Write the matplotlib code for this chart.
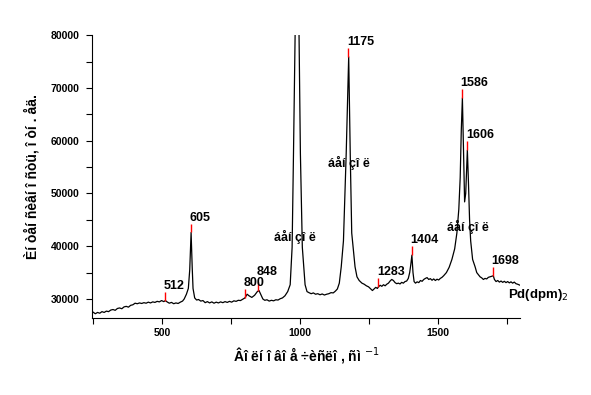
import numpy as np
import matplotlib
matplotlib.use('Agg')
import matplotlib.pyplot as plt
from matplotlib.ticker import MultipleLocator

# spectrum (wavenumber, intensity)
wavenumber = [250, 258, 266, 274, 282, 290, 298, 306, 314, 322, 330, 338, 346, 354,
              362, 370, 378, 386, 394, 402, 410, 418, 426, 434, 442, 450, 458, 466,
              474, 482, 490, 498, 506, 512, 518, 526, 534, 542, 550, 558, 566, 574,
              580, 588, 595, 600, 605, 609, 612, 618, 625, 632, 640, 648, 656, 664,
              672, 680, 688, 696, 704, 712, 720, 728, 736, 744, 752, 760, 768, 776,
              784, 792, 800, 808, 815, 825, 835, 845, 851, 857, 865, 872, 880, 888,
              896, 904, 912, 920, 928, 936, 945, 955, 964, 971, 976, 982, 989, 996,
              1001, 1008, 1018, 1025, 1032, 1040, 1048, 1056, 1064, 1072, 1080, 1088,
              1096, 1104, 1112, 1120, 1128, 1135, 1142, 1149, 1157, 1167, 1176, 1182,
              1187, 1199, 1206, 1214, 1224, 1232, 1240, 1248, 1256, 1262, 1268, 1274,
              1280, 1284, 1290, 1296, 1302, 1308, 1314, 1320, 1326, 1332, 1338, 1344,
              1350, 1356, 1362, 1368, 1374, 1380, 1386, 1392, 1397, 1401, 1405, 1409,
              1413, 1418, 1424, 1430, 1436, 1442, 1448, 1454, 1460, 1466, 1472, 1478,
              1484, 1490, 1496, 1502, 1508, 1514, 1520, 1530, 1540, 1550, 1560, 1568,
              1575, 1580, 1584, 1588, 1592, 1596, 1600, 1606, 1610, 1614, 1618, 1625,
              1634, 1640, 1646, 1652, 1658, 1664, 1670, 1676, 1682, 1688, 1694, 1700,
              1704, 1710, 1716, 1722, 1728, 1734, 1740, 1746, 1752, 1758, 1764, 1770,
              1776, 1782, 1788, 1797]
intensity = [27500, 27200, 27450, 27300, 27600, 27450, 27700, 27600, 27900, 28000,
             27850, 28200, 28300, 28150, 28500, 28600, 28450, 28800, 28900, 29200,
             29100, 29250, 29150, 29300, 29200, 29400, 29250, 29450, 29350, 29550,
             29450, 29700, 29500, 29700, 29450, 29200, 29350, 29100, 29250, 29150,
             29400, 29600, 30000, 30900, 32000, 35500, 42600, 36000, 32000, 30200,
             29800, 29900, 29600, 29700, 29300, 29500, 29250, 29450, 29200, 29400,
             29250, 29450, 29300, 29500, 29350, 29550, 29400, 29650, 29550, 29750,
             29700, 29950, 30200, 30900, 30600, 30300, 30700, 31400, 31600, 30900,
             30000, 29750, 29850, 29600, 29750, 29650, 29850, 29800, 30050, 30200,
             30600, 31400, 32700, 39800, 57600, 80500, 100000, 80500, 57600, 39800,
             32700, 31400, 31200, 31000, 31150, 30900, 31000, 30800, 30950, 30750,
             30900, 31000, 31200, 31150, 31500, 31900, 33000, 36100, 41000, 57600,
             75900, 56300, 42500, 36100, 34200, 33500, 33000, 32800, 32500, 32300,
             31900, 31600, 31900, 32200, 32000, 32300, 32600, 32400, 32700, 32500,
             32800, 33000, 33400, 33700, 33500, 33100, 32900, 33000, 32850, 33150,
             33000, 33300, 33400, 33900, 35000, 36500, 38300, 35000, 33300, 33000,
             33250, 33100, 33500, 33350, 33700, 33900, 34050, 33700, 33850, 33550,
             33800, 33500, 33750, 33600, 33900, 34100, 34400, 35000, 36000, 37500,
             39500, 42500, 47000, 53000, 62000, 68100, 58000, 48400, 50000, 58200,
             52000, 45000, 41000, 37500, 36100, 35000, 34600, 34200, 34000, 33700,
             33900, 33800, 34100, 34200, 34300, 34400, 33700, 33300, 33500, 33200,
             33400, 33150, 33350, 33100, 33300, 33050, 33250, 33000, 33200, 32900,
             32800, 32600]

# labelled peaks
peak_pos = [512, 605, 800, 848, 1175, 1283, 1404, 1586, 1606, 1698]
peak_height = [29700, 42600, 30200, 31600, 75900, 32300, 38300, 68100, 58200, 34400]
peak_text = ['512', '605', '800', '848', '1175', '1283', '1404', '1586', '1606', '1698']

# compound labels
band_pos = [982, 1178, 1609]
band_y = [41700, 55800, 43600]
band_text = 'áåí çî ë'

fig = plt.figure(figsize=(5.91, 3.95), dpi=100)
ax = fig.add_axes([0.1557, 0.195, 0.7243, 0.716])

ax.plot(wavenumber, intensity, color='black', lw=0.9)

bold = dict(fontweight='bold', family=['Liberation Sans', 'DejaVu Sans'])

# red peak markers + numbers
for x, h, t in zip(peak_pos, peak_height, peak_text):
    ax.vlines(x, h, h + 1700, color='red', lw=1.0)
    dy = 2.5 if t == '848' else 0
    ax.annotate(t, (x, h + 1700), xytext=(-1, dy), textcoords='offset points',
                ha='left', va='bottom', fontsize=9, **bold)

for x, y in zip(band_pos, band_y):
    ax.text(x, y, band_text, ha='center', va='center', fontsize=9, **bold)

ax.text(1753, 30800, 'Pd(dpm)$_2$', ha='left', va='center', fontsize=9.5,
        clip_on=False, **bold)

ax.set_xlim(246, 1797)
ax.set_ylim(26400, 80000)
ax.xaxis.set_major_locator(MultipleLocator(500))
ax.xaxis.set_minor_locator(MultipleLocator(250))
ax.yaxis.set_major_locator(MultipleLocator(10000))
ax.yaxis.set_minor_locator(MultipleLocator(5000))
ax.tick_params(which='both', direction='out', length=4, width=0.8)
ax.tick_params(axis='y', pad=5)
for lab in ax.get_xticklabels() + ax.get_yticklabels():
    lab.set_fontweight('bold')
    lab.set_fontsize(7.5)
    lab.set_family(['Liberation Sans', 'DejaVu Sans'])

ax.spines['top'].set_visible(False)
ax.spines['right'].set_visible(False)

ax.set_xlabel('Âî ëí î âî å ÷èñëî , ñì $^{-1}$', fontsize=10, labelpad=5, **bold)
ax.set_ylabel('Èí òåí ñèâí î ñòü, î òí . åä.', fontsize=10, labelpad=8, **bold)

fig.savefig('out.png', dpi=100)
